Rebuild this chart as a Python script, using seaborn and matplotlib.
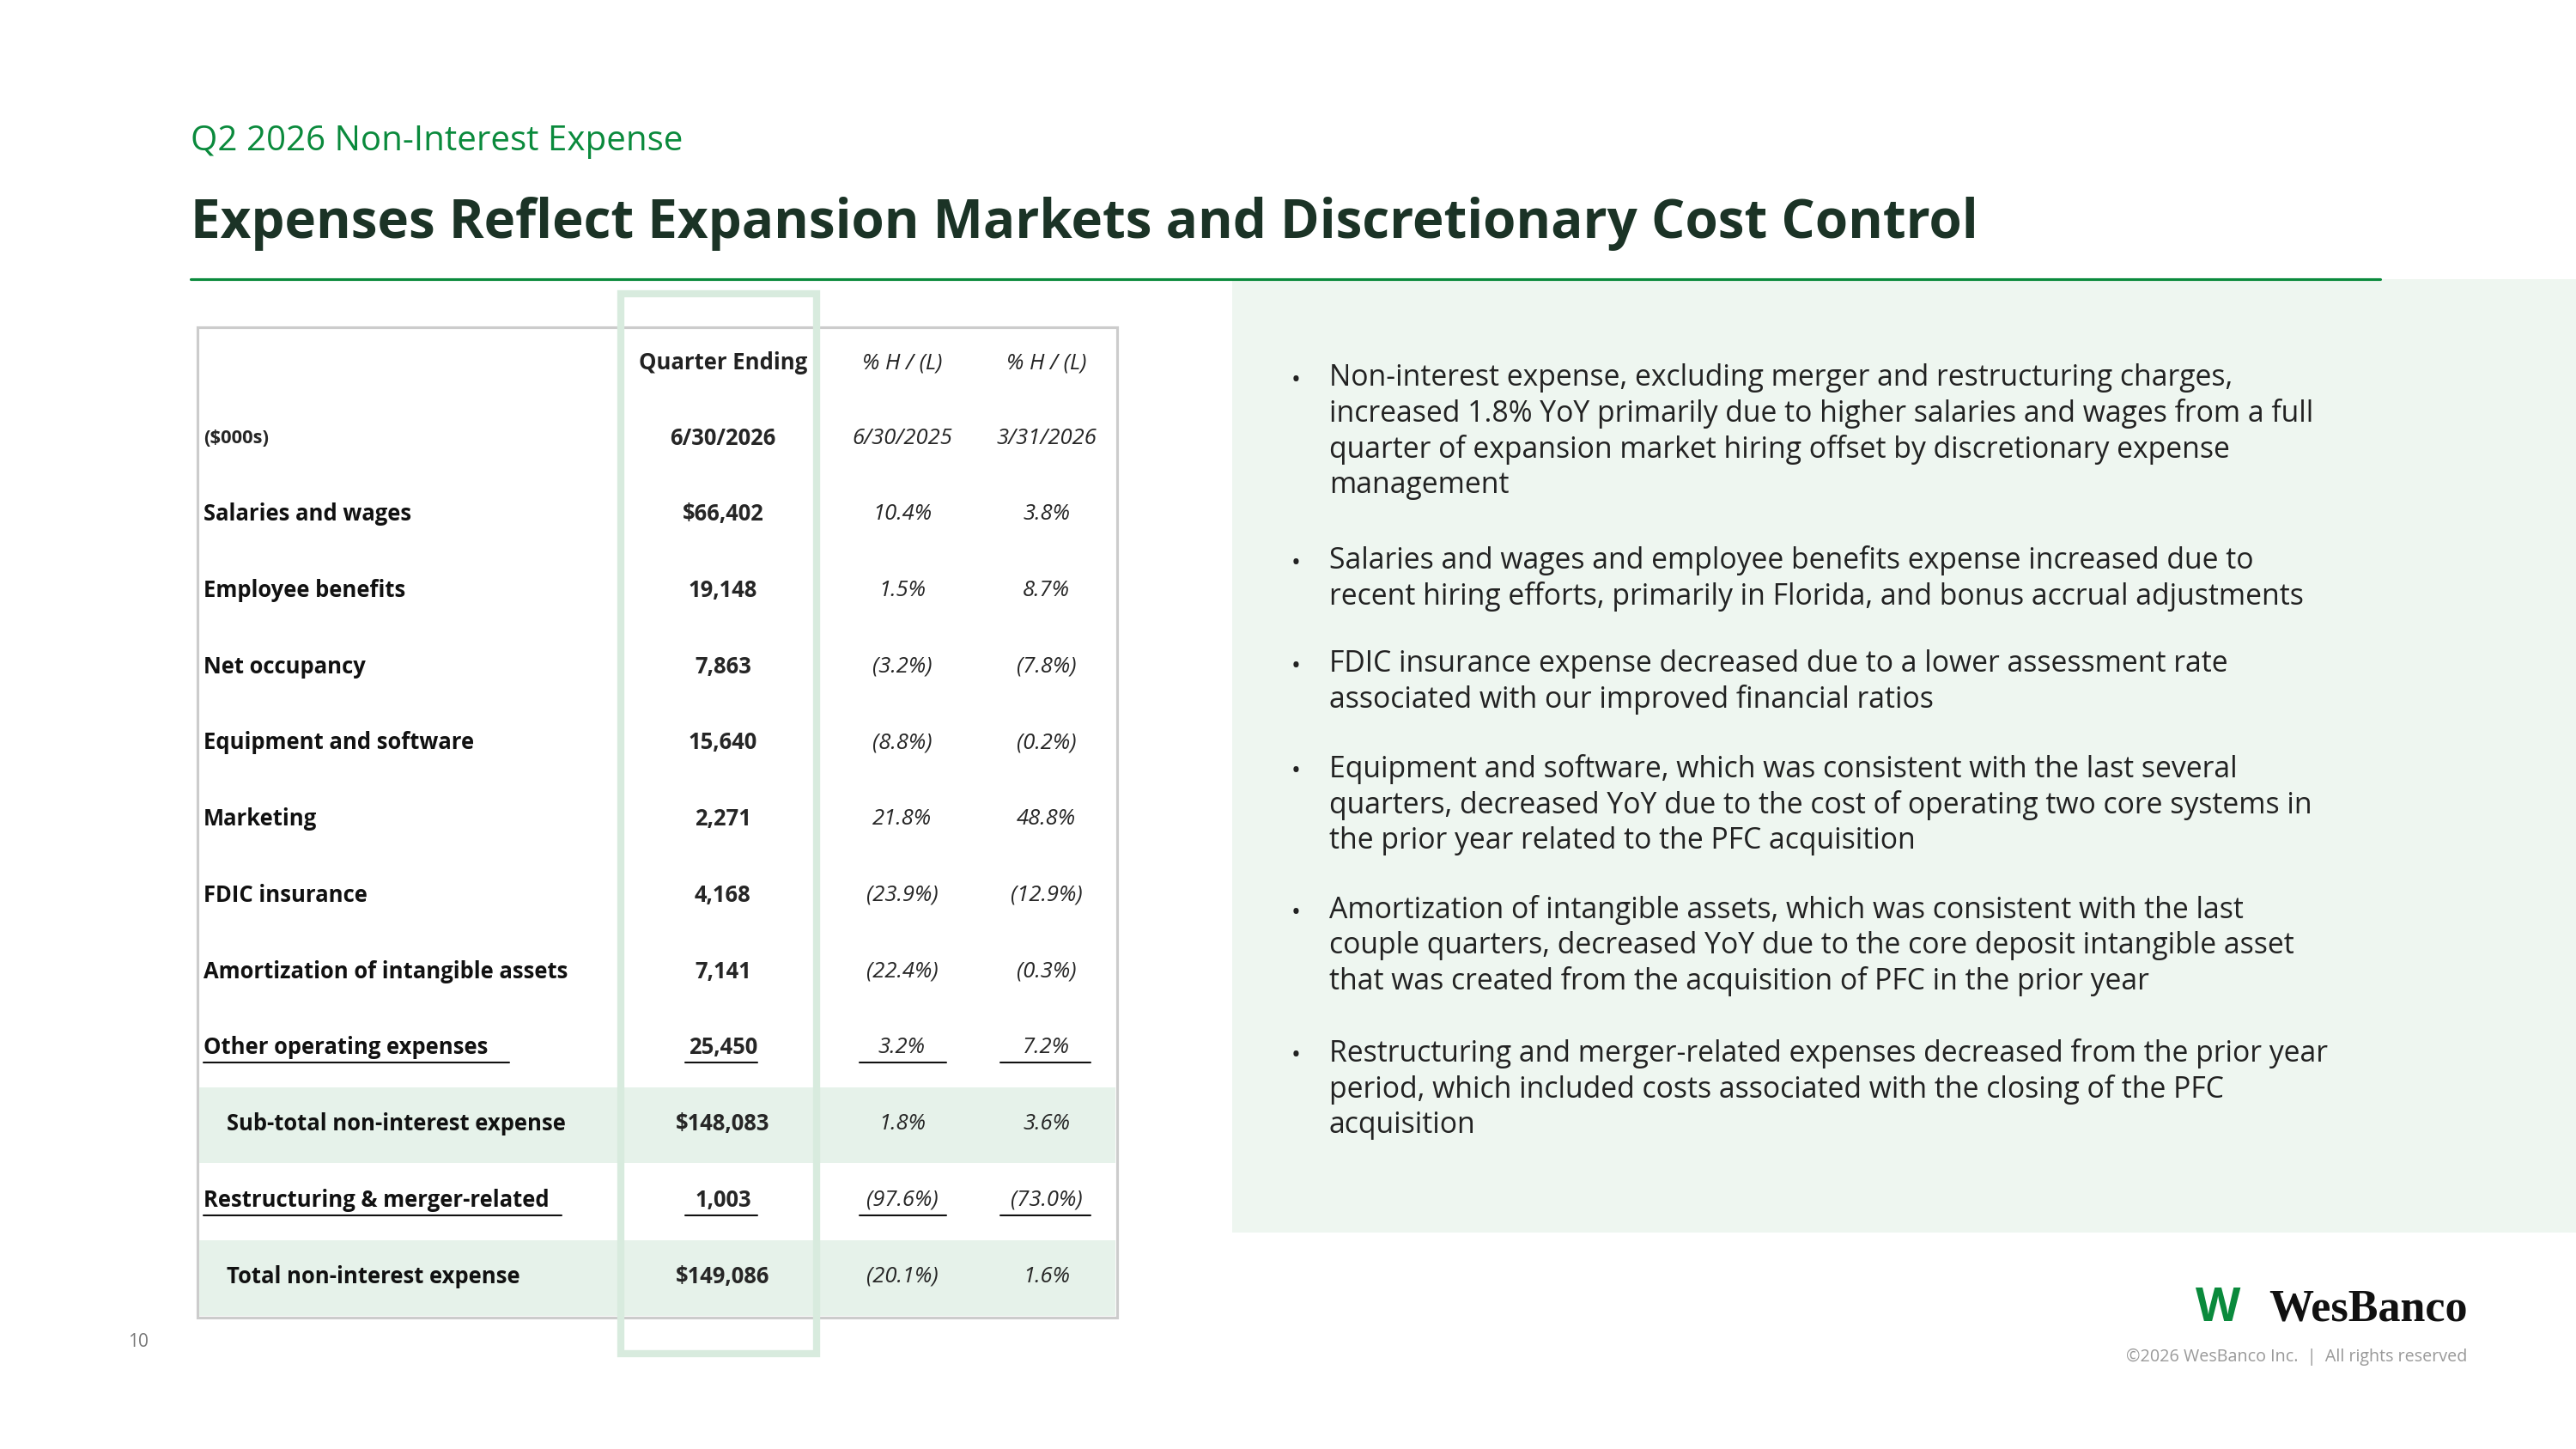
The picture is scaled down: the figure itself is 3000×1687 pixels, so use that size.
"""Recreate the Q2 2026 non-interest expense slide."""


import matplotlib.pyplot as plt
from matplotlib.patches import Rectangle
import seaborn as sns


GREEN = '#0a8a3c'
DARK = '#1b3326'
SHADE = '#e6f2ea'
PANEL = '#eef6f0'

ROWS = [
    ('Salaries and wages', '$66,402', '10.4%', '3.8%'),
    ('Employee benefits', '19,148', '1.5%', '8.7%'),
    ('Net occupancy', '7,863', '(3.2%)', '(7.8%)'),
    ('Equipment and software', '15,640', '(8.8%)', '(0.2%)'),
    ('Marketing', '2,271', '21.8%', '48.8%'),
    ('FDIC insurance', '4,168', '(23.9%)', '(12.9%)'),
    ('Amortization of intangible assets', '7,141', '(22.4%)', '(0.3%)'),
    ('Other operating expenses', '25,450', '3.2%', '7.2%'),
    ('Sub-total non-interest expense', '$148,083', '1.8%', '3.6%'),
    ('Restructuring & merger-related', '1,003', '(97.6%)', '(73.0%)'),
    ('Total non-interest expense', '$149,086', '(20.1%)', '1.6%'),
]

BULLETS = [
    (232, 'Non-interest expense, excluding merger and restructuring charges,\n'
          'increased 1.8% YoY primarily due to higher salaries and wages from a full\n'
          'quarter of expansion market hiring offset by discretionary expense\n'
          'management'),
    (343, 'Salaries and wages and employee benefits expense increased due to\n'
          'recent hiring efforts, primarily in Florida, and bonus accrual adjustments'),
    (406, 'FDIC insurance expense decreased due to a lower assessment rate\n'
          'associated with our improved financial ratios'),
    (470, 'Equipment and software, which was consistent with the last several\n'
          'quarters, decreased YoY due to the cost of operating two core systems in\n'
          'the prior year related to the PFC acquisition'),
    (556, 'Amortization of intangible assets, which was consistent with the last\n'
          'couple quarters, decreased YoY due to the core deposit intangible asset\n'
          'that was created from the acquisition of PFC in the prior year'),
    (643, 'Restructuring and merger-related expenses decreased from the prior year\n'
          'period, which included costs associated with the closing of the PFC\n'
          'acquisition'),
]


def draw_table(ax):
    """Draw the expense table with shaded sub-total rows."""
    ax.add_patch(Rectangle((120, 199), 560, 603, fc='white', ec='#cccccc', lw=1.5))
    for y in (662, 755):
        ax.add_patch(Rectangle((121, y), 558, 46, fc=SHADE, ec='none'))
    ax.add_patch(Rectangle((378, 179), 119, 645, fc='none', ec='#d8ebde', lw=4))

    fs = 12.3
    ax.text(440, 221, 'Quarter Ending', ha='center', va='center', fontsize=fs,
            weight='bold', color='#222222')
    for x in (549, 637):
        ax.text(x, 221, '% H / (L)', ha='center', va='center', fontsize=fs,
                style='italic', color='#222222')
    ax.text(124, 267, '($000s)', ha='left', va='center', fontsize=10.5, weight='bold')
    ax.text(440, 267, '6/30/2026', ha='center', va='center', fontsize=fs, weight='bold')
    ax.text(549, 267, '6/30/2025', ha='center', va='center', fontsize=fs, style='italic')
    ax.text(637, 267, '3/31/2026', ha='center', va='center', fontsize=fs, style='italic')

    for i, (label, value, yoy, qoq) in enumerate(ROWS):
        y = 313 + i * 46.4
        indent = 138 if label.startswith(('Sub-total', 'Total')) else 124
        under = label.startswith(('Other', 'Restructuring'))
        ax.text(indent, y, label, ha='left', va='center', fontsize=fs,
                weight='bold', color='#111111')
        ax.text(440, y, value, ha='center', va='center', fontsize=fs, weight='bold')
        ax.text(549, y, yoy, ha='center', va='center', fontsize=fs, style='italic')
        ax.text(637, y, qoq, ha='center', va='center', fontsize=fs, style='italic')
        if under:
            ax.plot([124, 310 if label.startswith('Other') else 342], [y + 9, y + 9],
                    color='#111111', lw=1)
            ax.plot([417, 461], [y + 9, y + 9], color='#111111', lw=1)
            ax.plot([523, 576], [y + 9, y + 9], color='#111111', lw=1)
            ax.plot([609, 664], [y + 9, y + 9], color='#111111', lw=1)


def draw_panel(ax):
    """Draw the commentary panel on the right."""
    ax.add_patch(Rectangle((750, 170), 818, 580, fc=PANEL, ec='none'))
    for y, text in BULLETS:
        ax.text(786, y, '•', ha='left', va='center', fontsize=14, color='#222222')
        ax.text(809, y - 11, text, ha='left', va='top', fontsize=16.2,
                color='#222222', linespacing=1.26)


def main():
    sns.set_theme(style='white')
    plt.rcParams['font.family'] = ['Open Sans', 'DejaVu Sans']
    fig = plt.figure(figsize=(20, 11.247), dpi=150)
    ax = fig.add_axes([0, 0, 1, 1])
    ax.set_xlim(0, 1568)
    ax.set_ylim(882, 0)
    ax.axis('off')

    ax.text(116, 86, 'Q2 2026 Non-Interest Expense', ha='left', va='center',
            fontsize=19.3, color=GREEN)
    ax.text(116, 136, 'Expenses Reflect Expansion Markets and Discretionary Cost Control',
            ha='left', va='center', fontsize=29.7, weight='bold', color=DARK)
    ax.plot([116, 1449], [170, 170], color=GREEN, lw=1.5)

    draw_panel(ax)
    draw_table(ax)

    ax.text(78, 817, '10', ha='left', va='center', fontsize=10, color='#777777')
    ax.text(1350, 797, 'W', ha='center', va='center', fontsize=26, weight='bold',
            color=GREEN)
    ax.text(1502, 797, 'WesBanco', ha='right', va='center', fontsize=25,
            weight='bold', family='Liberation Serif', color='#111111')
    ax.text(1502, 826, '©2026 WesBanco Inc.  |  All rights reserved', ha='right',
            va='center', fontsize=9.5, color='#999999')

    fig.savefig('out.png', dpi=150)
    return


if __name__ == '__main__':
    main()
